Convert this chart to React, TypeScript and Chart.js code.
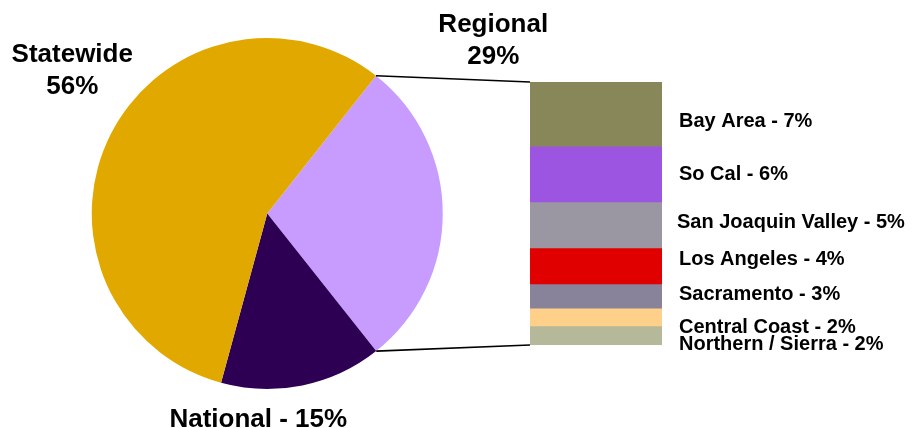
import React, { useEffect, useRef } from "react";
import { Chart, registerables } from "chart.js";

Chart.register(...registerables);

// ---- Data ----
const pieCategories = ["Regional", "National", "Statewide"];
const pieValues = [28.7, 14.9, 56.4];
const pieColors = ["#C89BFF", "#2E0054", "#E1A800"];
const pieLabelLines = [["Regional", "29%"], ["National - 15%"], ["Statewide", "56%"]];

const regionCategories = [
  "Bay Area",
  "So Cal",
  "San Joaquin Valley",
  "Los Angeles",
  "Sacramento",
  "Central Coast",
  "Northern / Sierra",
];
const regionValues = [7.06, 6.17, 5.07, 3.97, 2.65, 1.98, 2.09];
const regionLabels = [
  "Bay Area - 7%",
  "So Cal - 6%",
  "San Joaquin Valley - 5%",
  "Los Angeles - 4%",
  "Sacramento - 3%",
  "Central Coast - 2%",
  "Northern / Sierra - 2%",
];
const regionColors = ["#88875A", "#9B55E0", "#9A97A2", "#E00000", "#88829A", "#FFD08A", "#B6B89A"];

const FONT = '"Liberation Sans", Arial, sans-serif';
const W = 913;
const H = 428;

export default function App() {
  const pieRef = useRef<HTMLCanvasElement | null>(null);
  const barRef = useRef<HTMLCanvasElement | null>(null);

  useEffect(() => {
    if (!pieRef.current || !barRef.current) return;

    // label offsets relative to pie centre (x centre, baselines)
    const pieLabelPos = [
      { dx: 226, dy: [-182, -150] },
      { dx: -9, dy: [213] },
      { dx: -195, dy: [-152, -120] },
    ];

    const pieLabelsPlugin = {
      id: "pieLabels",
      afterDraw(chart: any) {
        const meta = chart.getDatasetMeta(0);
        const arc = meta.data[0];
        if (!arc) return;
        const ctx = chart.ctx;
        ctx.save();
        ctx.fillStyle = "#000";
        ctx.font = `bold 26px ${FONT}`;
        ctx.textAlign = "center";
        ctx.textBaseline = "alphabetic";
        pieLabelLines.forEach((lines, i) => {
          const p = pieLabelPos[i];
          lines.forEach((t, j) => {
            ctx.fillText(t, arc.x + p.dx, arc.y + p.dy[j]);
          });
        });
        ctx.restore();
      },
    };

    const pie = new Chart(pieRef.current, {
      type: "pie",
      data: {
        labels: pieCategories,
        datasets: [
          {
            data: pieValues,
            backgroundColor: pieColors,
            borderWidth: 0,
          },
        ],
      },
      options: {
        responsive: false,
        animation: false,
        rotation: 38.3,
        layout: { padding: { left: 91.5, right: 470, top: 38, bottom: 39 } },
        plugins: { legend: { display: false }, tooltip: { enabled: false } },
      },
      plugins: [pieLabelsPlugin],
    });

    const total = regionValues.reduce((a, b) => a + b, 0);
    const nudges = [13, 6, 3, -1, 4, 16, 14.5];
    const xShift = [0, 0, -2, 0, 0, 0, 0];

    const barPlugin = {
      id: "barExtras",
      afterDraw(chart: any) {
        const ctx = chart.ctx;
        const area = chart.chartArea;
        ctx.save();
        // connector lines from pie "Regional" slice to the bar
        const arc = pie.getDatasetMeta(0).data[0] as any;
        if (arc) {
          const r = arc.outerRadius;
          const sx = arc.x + r * Math.cos(arc.startAngle);
          const sy = arc.y + r * Math.sin(arc.startAngle);
          const ex = arc.x + r * Math.cos(arc.endAngle);
          const ey = arc.y + r * Math.sin(arc.endAngle);
          ctx.strokeStyle = "#000";
          ctx.lineWidth = 1.6;
          ctx.beginPath();
          ctx.moveTo(sx, sy);
          ctx.lineTo(area.left, area.top);
          ctx.moveTo(ex, ey);
          ctx.lineTo(area.left, area.bottom);
          ctx.stroke();
        }
        // labels
        ctx.fillStyle = "#000";
        ctx.font = `bold 20px ${FONT}`;
        ctx.textAlign = "left";
        ctx.textBaseline = "alphabetic";
        chart.data.datasets.forEach((ds: any, i: number) => {
          const el = chart.getDatasetMeta(i).data[0] as any;
          if (!el) return;
          const cy = (el.y + el.base) / 2;
          ctx.fillText(regionLabels[i], area.right + 17 + xShift[i], cy + nudges[i]);
        });
        ctx.restore();
      },
    };

    const bar = new Chart(barRef.current, {
      type: "bar",
      data: {
        labels: ["Regional"],
        datasets: regionCategories.map((c, i) => ({
          label: c,
          data: [regionValues[i]],
          backgroundColor: regionColors[i],
          borderWidth: 0,
          categoryPercentage: 1,
          barPercentage: 1,
          stack: "s",
        })),
      },
      options: {
        responsive: false,
        animation: false,
        layout: { padding: { left: 530, right: 251, top: 82, bottom: 83 } },
        scales: {
          x: { display: false, stacked: true },
          y: { display: false, stacked: true, min: 0, max: total, reverse: true },
        },
        plugins: { legend: { display: false }, tooltip: { enabled: false } },
      },
      plugins: [barPlugin],
    });

    return () => {
      bar.destroy();
      pie.destroy();
    };
  }, []);

  return (
    <div style={{ position: "absolute", left: 0, top: 0, width: W, height: H, background: "#fff" }}>
      <canvas ref={pieRef} width={W} height={H} style={{ position: "absolute", left: 0, top: 0 }} />
      <canvas ref={barRef} width={W} height={H} style={{ position: "absolute", left: 0, top: 0 }} />
    </div>
  );
}
